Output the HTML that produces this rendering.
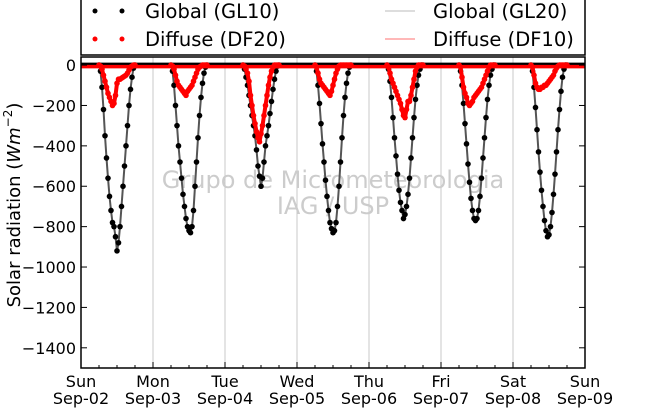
<!DOCTYPE html>
<html><head><meta charset="utf-8"><style>
body{margin:0;background:#fff}
svg{display:block;font-family:"DejaVu Sans","Liberation Sans",sans-serif}
</style></head><body>
<svg id="chart" width="650" height="409" viewBox="0 0 650 409" xmlns="http://www.w3.org/2000/svg">
<g id="grid"></g>
<text x="333" y="188" text-anchor="middle" font-size="24" fill="#cccccc">Grupo de Micrometeorologia</text>
<text x="333" y="214" text-anchor="middle" font-size="24" fill="#cccccc">IAG / USP</text>
<g id="series"></g>
<rect x="81" y="57" width="504" height="311" fill="none" stroke="#000" stroke-width="1.5"/>
<g id="axes"></g>
<text transform="translate(20,205) rotate(-90)" text-anchor="middle" font-size="18">Solar radiation (<tspan font-style="italic">Wm</tspan><tspan font-size="12" dy="-8">−2</tspan><tspan dy="8">)</tspan></text>
<g>
<rect x="81" y="-2" width="504" height="57" fill="#fff" stroke="#000" stroke-width="1.5"/>
<circle cx="95" cy="11" r="2.5" fill="#000"/><circle cx="122" cy="11" r="2.5" fill="#000"/>
<text x="145" y="18" font-size="19.5">Global (GL10)</text>
<circle cx="95" cy="39" r="2.5" fill="red"/><circle cx="122" cy="39" r="2.5" fill="red"/>
<text x="145" y="46" font-size="19.5">Diffuse (DF20)</text>
<line x1="385" y1="11" x2="415" y2="11" stroke="#bbb" stroke-width="1"/>
<text x="433" y="18" font-size="19.5">Global (GL20)</text>
<line x1="385" y1="39" x2="415" y2="39" stroke="#ff7070" stroke-width="1"/>
<text x="433" y="46" font-size="19.5">Diffuse (DF10)</text>
</g>
</svg>
<script>
const dayLabels=["Sun","Mon","Tue","Wed","Thu","Fri","Sat","Sun"];
const dateLabels=["Sep-02","Sep-03","Sep-04","Sep-05","Sep-06","Sep-07","Sep-08","Sep-09"];
const yTicks=[0,-200,-400,-600,-800,-1000,-1200,-1400];
const sampleHours=[6,6.5,7,7.5,8,8.5,9,9.5,10,10.5,11,11.5,12,12.5,13,13.5,14,14.5,15,15.5,16,16.5,17,17.5,18];
const globalSun=[0,-30,-110,-220,-350,-460,-560,-650,-720,-780,-800,-850,-920,-880,-800,-700,-600,-500,-400,-300,-200,-120,-60,-15,0];
const globalMon=[0,-30,-100,-200,-300,-400,-480,-560,-640,-700,-760,-800,-820,-830,-800,-720,-600,-480,-360,-250,-160,-90,-40,-10,0];
const globalTue=[0,-20,-60,-100,-150,-200,-250,-300,-350,-420,-500,-550,-600,-560,-480,-400,-350,-300,-240,-180,-120,-70,-30,-5,0];
const globalWed=[0,-30,-100,-190,-290,-390,-480,-570,-650,-720,-780,-810,-830,-820,-780,-700,-600,-480,-360,-250,-160,-90,-40,-10,0];
const globalThu=[0,-20,-80,-160,-260,-360,-450,-540,-620,-680,-720,-760,-740,-700,-640,-560,-460,-360,-260,-170,-100,-50,-20,0,0];
const globalFri=[0,-30,-100,-190,-290,-390,-490,-580,-660,-720,-760,-770,-760,-720,-650,-560,-460,-360,-260,-170,-100,-50,-20,0,0];
const globalSat=[0,-30,-110,-210,-320,-430,-530,-620,-700,-770,-820,-850,-840,-800,-730,-640,-540,-430,-320,-220,-130,-60,-20,0,0];
const diffuseSun=[0,-5,-20,-50,-80,-110,-140,-160,-180,-200,-190,-150,-90,-70,-70,-65,-60,-55,-50,-40,-25,-10,-5,0,0];
const diffuseMon=[0,-5,-20,-50,-80,-100,-110,-120,-130,-140,-150,-130,-120,-110,-100,-80,-60,-40,-20,-10,-5,0,0,0,0];
const diffuseTue=[0,-5,-20,-40,-80,-150,-200,-250,-290,-330,-360,-380,-340,-300,-250,-200,-150,-100,-60,-30,-10,0,0,0,0];
const diffuseWed=[0,-10,-40,-70,-90,-100,-110,-120,-130,-140,-150,-130,-100,-70,-40,-20,-5,0,0,0,0,0,0,0,0];
const diffuseThu=[0,-10,-40,-70,-90,-110,-130,-150,-170,-190,-220,-250,-260,-220,-180,-180,-150,-110,-70,-30,-10,0,0,0,0];
const diffuseFri=[0,-10,-60,-110,-140,-160,-190,-200,-190,-180,-160,-150,-140,-130,-120,-110,-90,-70,-50,-30,-10,0,0,0,0];
const diffuseSat=[0,-10,-50,-90,-110,-120,-120,-110,-110,-100,-100,-90,-80,-70,-60,-50,-30,-15,-5,0,0,0,0,0,0];
const globalDays=[globalSun,globalMon,globalTue,globalWed,globalThu,globalFri,globalSat];
const diffuseDays=[diffuseSun,diffuseMon,diffuseTue,diffuseWed,diffuseThu,diffuseFri,diffuseSat];

const NS="http://www.w3.org/2000/svg";
const X0=81,X1=585,Y0=57,Y1=368,YMAX=40,YMIN=-1500,NDAYS=7;
function xs(dayIdx,hour){return X0+(dayIdx+hour/24)*(X1-X0)/NDAYS;}
function ys(v){return Y0+(YMAX-v)/(YMAX-YMIN)*(Y1-Y0);}
function mk(tag,attrs,parent){const e=document.createElementNS(NS,tag);for(const k in attrs)e.setAttribute(k,attrs[k]);parent.appendChild(e);return e;}
const grid=document.getElementById('grid'),axes=document.getElementById('axes'),series=document.getElementById('series');

for(let d=1;d<NDAYS;d++){
  const l=mk('line',{x1:xs(d,0),x2:xs(d,0),y1:Y0,y2:Y1,stroke:'#c8c8c8','stroke-width':1},grid);
  
  
}
for(let d=0;d<=NDAYS;d++){
  for(let h=0;h<24&&!(d===NDAYS&&h>0);h+=6){
    const len=h===0?6:3;
    const t=mk('line',{x1:xs(d,h),x2:xs(d,h),y1:Y1,y2:Y1-len,stroke:'#000','stroke-width':1},axes);
    
    
  }
  const a=mk('text',{x:xs(d,0),y:387,'text-anchor':'middle','font-size':16},axes);
  a.textContent=dayLabels[d];
  
  
  const b=mk('text',{x:xs(d,0),y:404,'text-anchor':'middle','font-size':16},axes);
  b.textContent=dateLabels[d];
  
  
}
yTicks.forEach(v=>{
  const y=ys(v);
  const t1=mk('line',{x1:X0,x2:X0+6,y1:y,y2:y,stroke:'#000'},axes);
  
  
  const t2=mk('line',{x1:X1-6,x2:X1,y1:y,y2:y,stroke:'#000'},axes);
  
  
  const lb=mk('text',{x:76,y:y+6,'text-anchor':'end','font-size':16},axes);
  lb.textContent=v===0?'0':'\u2212'+Math.abs(v);
  
  
});
const zb=mk('line',{x1:X0,x2:X1,y1:ys(0)-1,y2:ys(0)-1,stroke:'#000','stroke-width':3},series);



function drawSeries(days,lineColor,lineW,dotColor,name){
  days.forEach((vals,d)=>{
    const pts=vals.map((v,i)=>xs(d,sampleHours[i]).toFixed(1)+','+ys(v).toFixed(1)).join(' ');
    const pl=mk('polyline',{points:pts,fill:'none',stroke:lineColor,'stroke-width':lineW,'stroke-linejoin':'round'},series);
    
    
    vals.forEach((v,i)=>{
      const c=mk('circle',{cx:xs(d,sampleHours[i]),cy:ys(v),r:2.8,fill:dotColor},series);
      
      
    });
  });
}
drawSeries(globalDays,'#555555',2,'#000','global');
const zr=mk('line',{x1:X0,x2:X1,y1:ys(0)+1.5,y2:ys(0)+1.5,stroke:'red','stroke-width':3.5},series);


drawSeries(diffuseDays,'red',4,'red','diffuse');
</script>
</body></html>
